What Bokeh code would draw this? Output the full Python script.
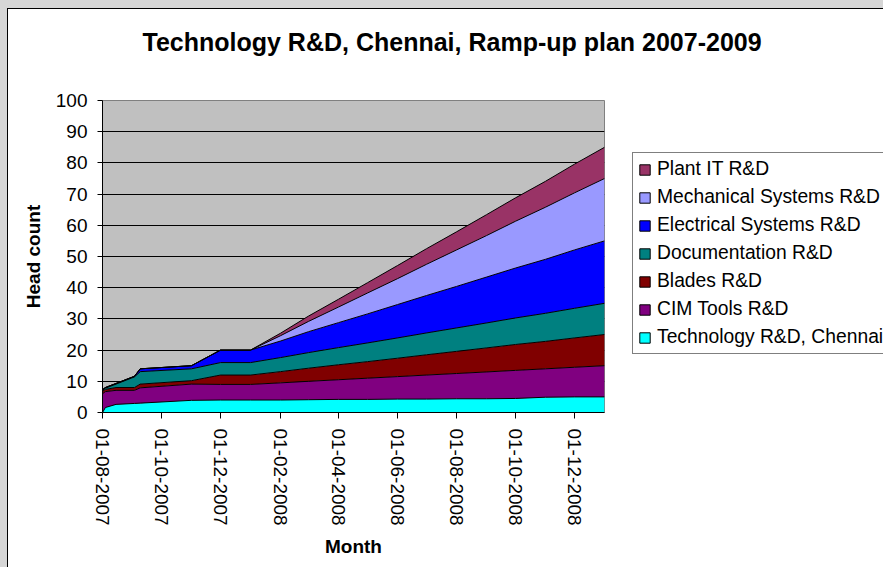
from datetime import datetime
from bokeh.plotting import figure
from bokeh.models import (ColumnDataSource, Range1d, FixedTicker, SingleIntervalTicker,
                          DatetimeTickFormatter, Legend, LegendItem, Title)
from bokeh.embed import file_html
from bokeh.resources import INLINE

dates = ["2007-08-01", "2007-08-04", "2007-08-15", "2007-09-03", "2007-09-09",
         "2007-11-01", "2007-12-01", "2008-01-01", "2008-02-01", "2008-03-01",
         "2008-04-01", "2008-05-01", "2008-06-01", "2008-07-01", "2008-08-01",
         "2008-09-01", "2008-10-01", "2008-11-01", "2008-12-01", "2009-01-01"]

tech_chennai = [0, 1.6, 2.6, 2.9, 3.0, 3.9, 4, 4, 4.0, 4.1, 4.2, 4.2, 4.3, 4.3, 4.4, 4.4, 4.5, 4.9, 5, 5]
cim_tools = [6.0, 5.1, 4.5, 4.2, 4.9, 5.2, 5.0, 5.0, 5.5, 5.9, 6.3, 6.8, 7.2, 7.7, 8.1, 8.6, 9.0, 9.1, 9.5, 10]
blades = [0.8, 0.7, 0.9, 0.9, 1.2, 1.1, 3, 3, 3.6, 4.2, 4.8, 5.3, 5.9, 6.5, 7.1, 7.7, 8.3, 8.8, 9.4, 10]
documentation = [0.3, 0.4, 1.1, 3.4, 4.0, 3.8, 4, 4, 4.5, 5, 5.5, 6, 6.5, 7, 7.5, 8, 8.5, 9, 9.5, 10]
electrical = [0.2, 0.2, 0.2, 0.2, 0.9, 1.0, 4, 4, 5.3, 6.7, 8, 9.3, 10.7, 12, 13.3, 14.7, 16, 17.3, 18.7, 20]
mechanical = [0, 0, 0, 0, 0, 0, 0, 0, 1.7, 3.3, 5, 6.7, 8.3, 10, 11.7, 13.3, 15, 16.7, 18.3, 20]
plant_it = [0, 0, 0, 0, 0, 0, 0, 0, 0.8, 1.7, 2.5, 3.3, 4.2, 5, 5.8, 6.7, 7.5, 8.3, 9.2, 10]

series_names = ["Technology R&D, Chennai", "CIM Tools R&D", "Blades R&D", "Documentation R&D",
                "Electrical Systems R&D", "Mechanical Systems R&D", "Plant IT R&D"]
series_colors = ["#00FFFF", "#800080", "#800000", "#008080", "#0000FF", "#9999FF", "#993366"]

tick_dates = ["2007-08-01", "2007-10-01", "2007-12-01", "2008-02-01", "2008-04-01",
              "2008-06-01", "2008-08-01", "2008-10-01", "2008-12-01"]
x_start, x_end = "2007-08-01", "2009-01-01"

FONT = "Liberation Sans"

def d(s):
    return datetime.strptime(s, "%Y-%m-%d")

keys = ["s%d" % i for i in range(len(series_names))]
data = {"x": [d(s) for s in dates]}
for k, vals in zip(keys, [tech_chennai, cim_tools, blades, documentation, electrical, mechanical, plant_it]):
    data[k] = vals
source = ColumnDataSource(data)

p = figure(frame_width=502, frame_height=312, x_axis_type="datetime", output_backend="svg",
           toolbar_location=None, title=None,
           x_range=Range1d(d(x_start), d(x_end)), y_range=Range1d(0, 100),
           min_border_left=102, min_border_right=279, min_border_top=100, min_border_bottom=155)

p.background_fill_color = "#C0C0C0"
# transparent border area; the element's own background supplies the white chart area
# and the grey window edge with its dark line along the top and left
p.border_fill_color = None
p.styles = {"background-color": "white",
            "box-shadow": "inset 7px 8px 0 0 #D6D6D6, inset 8px 9px 0 0 #000000"}
p.outline_line_color = "#808080"

p.varea_stack(stackers=keys, x="x", color=series_colors, source=source)
p.vline_stack(stackers=keys, x="x", color="black", line_width=1, source=source)

# grid
p.xgrid.grid_line_color = None
p.ygrid.grid_line_color = "black"
p.ygrid.grid_line_width = 1
p.ygrid.ticker = SingleIntervalTicker(interval=10)

# axes
p.yaxis.ticker = SingleIntervalTicker(interval=10)
p.yaxis.minor_tick_line_color = None
p.yaxis.major_tick_out = 5
p.yaxis.major_tick_in = 0
p.yaxis.major_label_standoff = 10
p.yaxis.axis_label = "Head count"
p.yaxis.axis_label_standoff = 9

p.xaxis.ticker = FixedTicker(ticks=[d(s).timestamp() * 1000 for s in tick_dates])
p.xaxis.formatter = DatetimeTickFormatter(days="%d-%m-%Y", months="%d-%m-%Y", years="%d-%m-%Y")
p.xaxis.major_label_orientation = "vertical"
p.xaxis.minor_tick_line_color = None
p.xaxis.major_tick_out = 6
p.xaxis.major_tick_in = 0
p.xaxis.major_label_standoff = 10
p.xaxis.axis_label = "Month"
p.xaxis.axis_label_standoff = 7

for ax in (p.xaxis, p.yaxis):
    ax.axis_line_color = "black"
    ax.major_tick_line_color = "black"
    ax.major_label_text_font = FONT
    ax.major_label_text_font_size = "19px"
    ax.major_label_text_color = "black"
    ax.axis_label_text_font = FONT
    ax.axis_label_text_font_size = "19px"
    ax.axis_label_text_font_style = "bold"
    ax.axis_label_text_color = "black"

# spacer between frame and title (keeps the frame top fixed), then the title
spacer = Title(text=" ", text_font=FONT, text_font_size="1px", standoff=19)
p.add_layout(spacer, "above")
title = Title(text="Technology R&D, Chennai, Ramp-up plan 2007-2009",
              text_font=FONT, text_font_size="25px", text_font_style="bold",
              text_color="black", align="left", offset=40, standoff=46)
p.add_layout(title, "above")

# legend (swatches are quads with no drawable coordinates, shown only in the legend)
nan = float("nan")
items = []
for name, col in reversed(list(zip(series_names, series_colors))):
    r = p.quad(left=[nan], right=[nan], top=[nan], bottom=[nan],
               fill_color=col, line_color="black", line_width=1)
    items.append(LegendItem(label=name, renderers=[r]))
legend = Legend(items=items, location=(28, 58), orientation="vertical",
                border_line_color="black", border_line_width=1,
                background_fill_color="white", background_fill_alpha=1.0,
                padding=5, margin=0, spacing=6,
                glyph_width=13, glyph_height=13, label_standoff=6,
                label_height=22,
                label_text_font=FONT, label_text_font_size="19.3px", label_text_color="black")
p.add_layout(legend, "right")

open("out.html", "w").write(file_html(p, INLINE))
